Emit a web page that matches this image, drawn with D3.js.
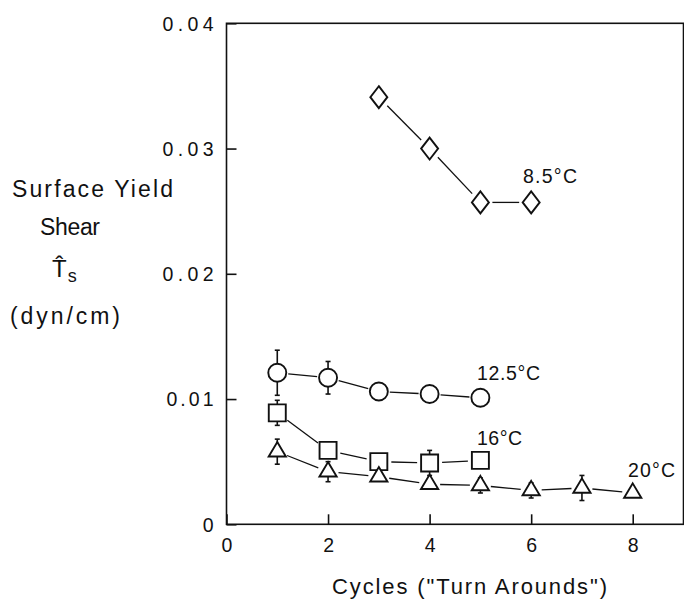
<!DOCTYPE html>
<html>
<head>
<meta charset="utf-8">
<script src="https://cdn.jsdelivr.net/npm/d3@7"></script>
<style>
  html, body { margin: 0; padding: 0; background: #fff; }
  svg { display: block; }
  text { font-family: "Liberation Sans", Arial, sans-serif; fill: #111; }
</style>
</head>
<body>
<svg id="chart" width="684" height="601"></svg>
<script>
// Surface yield shear vs. number of cycles, one series per temperature
const xTickValues = [0, 2, 4, 6, 8];
const yTickValues = [0, 0.01, 0.02, 0.03, 0.04];
const yTickLabels = ["0", "0.01", "0.02", "0.03", "0.04"];

const cycles85 = [3, 4, 5, 6];
const shear85 = [0.0341, 0.0300, 0.0257, 0.0257];
const err85 = [0, 0, 0, 0];

const cycles125 = [1, 2, 3, 4, 5];
const shear125 = [0.0121, 0.0117, 0.0106, 0.0104, 0.0101];
const err125 = [0.0018, 0.0013, 0, 0, 0];

const cycles16 = [1, 2, 3, 4, 5];
const shear16 = [0.0089, 0.0059, 0.0050, 0.0049, 0.0051];
const err16 = [0.0010, 0, 0, 0.0010, 0];

const cycles20 = [1, 2, 3, 4, 5, 6, 7, 8];
const shear20 = [0.0058, 0.0042, 0.0038, 0.0032, 0.0031, 0.0027, 0.0029, 0.0025];
const err20 = [0.0010, 0.0008, 0, 0, 0.0006, 0.0006, 0.0010, 0];

const seriesLabels = ["8.5°C", "12.5°C", "16°C", "20°C"];

const svg = d3.select("#chart");
const plotLeft = 226.5, plotRight = 683.5, plotTop = 23.3, plotBottom = 524.3;

const x = d3.scaleLinear().domain([0, 9]).range([plotLeft, plotRight]);
const y = d3.scaleLinear().domain([0, 0.04]).range([plotBottom, plotTop]);

// plot frame
svg.append("rect")
  .attr("x", plotLeft).attr("y", plotTop)
  .attr("width", plotRight - plotLeft).attr("height", plotBottom - plotTop)
  .attr("fill", "none").attr("stroke", "#111").attr("stroke-width", 1.6);

// y axis: inward ticks, labels on the left
const yAxis = svg.append("g")
  .attr("transform", `translate(${plotLeft},0)`)
  .call(d3.axisLeft(y).tickValues(yTickValues)
    .tickFormat((d, i) => yTickLabels[i])
    .tickSizeInner(-10).tickSizeOuter(0).tickPadding(13));
yAxis.select(".domain").remove();
yAxis.selectAll("line").attr("stroke", "#111").attr("stroke-width", 1.6);
yAxis.selectAll("text")
  .attr("font-size", 19.5)
  .attr("font-family", "Liberation Sans, Arial, sans-serif")
  .attr("fill", "#111")
  .attr("dy", "0.35em")
  .each(function(d, i) {
    const t = yTickLabels[i];
    if (t.length > 1) d3.select(this).attr("textLength", t === "0.01" ? 47 : 51).attr("lengthAdjust", "spacing");
  });

// x axis: inward ticks, labels below
const xAxis = svg.append("g")
  .attr("transform", `translate(0,${plotBottom})`)
  .call(d3.axisBottom(x).tickValues(xTickValues)
    .tickFormat(d3.format("d"))
    .tickSizeInner(-10).tickSizeOuter(0).tickPadding(14));
xAxis.select(".domain").remove();
xAxis.selectAll("line").attr("stroke", "#111").attr("stroke-width", 1.6);
xAxis.selectAll("text")
  .attr("font-size", 19.5)
  .attr("font-family", "Liberation Sans, Arial, sans-serif")
  .attr("fill", "#111");

// axis titles
svg.append("text").attr("x", 332).attr("y", 594)
  .attr("font-size", 22).attr("textLength", 275).attr("lengthAdjust", "spacing")
  .text('Cycles ("Turn Arounds")');

svg.append("text").attr("x", 12).attr("y", 197)
  .attr("font-size", 23).attr("textLength", 161).attr("lengthAdjust", "spacing")
  .text("Surface Yield");
svg.append("text").attr("x", 40).attr("y", 235)
  .attr("font-size", 23).attr("textLength", 60).attr("lengthAdjust", "spacing")
  .text("Shear");
// symbol with hat and subscript s
const sym = svg.append("text").attr("x", 52).attr("y", 277).attr("font-size", 24);
sym.append("tspan").text("T\u0302");
sym.append("tspan").attr("font-size", 18).attr("dx", 1).attr("dy", 5).text("s");
svg.append("text").attr("x", 10).attr("y", 324)
  .attr("font-size", 23).attr("textLength", 110).attr("lengthAdjust", "spacing")
  .text("(dyn/cm)");

// marker shapes
const markerPath = {
  diamond: "M0,-11L8.5,0L0,11L-8.5,0Z",
  circle: "M9,0A9,9 0 1,1 -9,0A9,9 0 1,1 9,0Z",
  square: "M-8.5,-8.5H8.5V8.5H-8.5Z",
  triangle: "M0,-9.6L8.6,4.8L-8.6,4.8Z"
};

const series = [
  { xs: cycles85, ys: shear85, es: err85, shape: "diamond", gap: 12 },
  { xs: cycles125, ys: shear125, es: err125, shape: "circle", gap: 11 },
  { xs: cycles16, ys: shear16, es: err16, shape: "square", gap: 12.5 },
  { xs: cycles20, ys: shear20, es: err20, shape: "triangle", gap: 10.5 }
];

const marks = svg.append("g");

series.forEach(s => {
  const pts = s.xs.map((c, i) => ({ px: x(c), py: y(s.ys[i]), e: s.es[i], v: s.ys[i] }));
  const g = marks.append("g");

  // connecting segments, stopping short of each marker
  for (let i = 0; i < pts.length - 1; i++) {
    const a = pts[i], b = pts[i + 1];
    const dx = b.px - a.px, dy = b.py - a.py, len = Math.hypot(dx, dy);
    const ux = dx / len, uy = dy / len;
    g.append("line")
      .attr("x1", a.px + ux * s.gap).attr("y1", a.py + uy * s.gap)
      .attr("x2", b.px - ux * s.gap).attr("y2", b.py - uy * s.gap)
      .attr("stroke", "#111").attr("stroke-width", 1.3);
  }

  // error bars with small caps
  pts.filter(p => p.e > 0).forEach(p => {
    const y1 = y(p.v + p.e), y2 = y(p.v - p.e);
    g.append("line").attr("x1", p.px).attr("x2", p.px).attr("y1", y1).attr("y2", y2)
      .attr("stroke", "#111").attr("stroke-width", 1.6);
    [y1, y2].forEach(yy => g.append("line")
      .attr("x1", p.px - 2.5).attr("x2", p.px + 2.5).attr("y1", yy).attr("y2", yy)
      .attr("stroke", "#111").attr("stroke-width", 1.6));
  });

  // markers
  g.selectAll("path.m").data(pts).join("path")
    .attr("class", "m")
    .attr("d", markerPath[s.shape])
    .attr("transform", p => `translate(${p.px},${p.py})`)
    .attr("fill", "#fff").attr("stroke", "#111").attr("stroke-width", 1.9)
    .attr("stroke-linejoin", "miter");
});

// temperature labels
const labelPos = [
  { x: 523, y: 183, w: 54 },
  { x: 477, y: 380, w: 63 },
  { x: 477, y: 445, w: 45 },
  { x: 628, y: 477, w: 47 }
];
seriesLabels.forEach((t, i) => {
  svg.append("text").attr("x", labelPos[i].x).attr("y", labelPos[i].y)
    .attr("font-size", 19.5).attr("textLength", labelPos[i].w).attr("lengthAdjust", "spacing")
    .text(t);
});
</script>
</body>
</html>
